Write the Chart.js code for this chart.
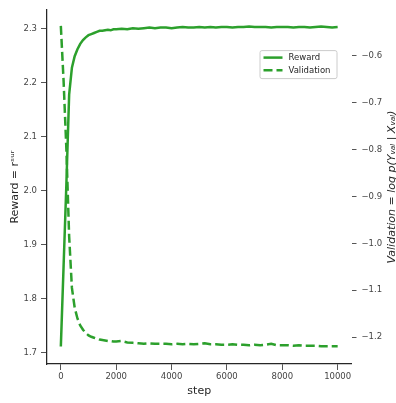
<!DOCTYPE html>
<html>
<head>
<meta charset="utf-8">
<script src="https://cdn.jsdelivr.net/npm/chart.js@4"></script>
<style>
  html, body { margin: 0; padding: 0; background: #fff; }
  #wrap { width: 396px; height: 403px; }
</style>
</head>
<body>
<div id="wrap"><canvas id="graficoEntrenamiento"></canvas></div>
<script>
// datos
let steps = [0, 100, 200, 300, 400, 500, 600, 700, 800, 900, 1000, 1100, 1200, 1300, 1400, 1500, 1600, 1700, 1800, 1900, 2000,
  2200, 2400, 2600, 2800, 3000, 3200, 3400, 3600, 3800, 4000, 4200, 4400, 4600, 4800, 5000, 5200, 5400, 5600, 5800, 6000,
  6200, 6400, 6600, 6800, 7000, 7200, 7400, 7600, 7800, 8000, 8200, 8400, 8600, 8800, 9000, 9200, 9400, 9600, 9800, 10000];

let reward = [1.712, 1.862, 2.012, 2.178, 2.228, 2.249, 2.262, 2.272, 2.279, 2.284, 2.288, 2.290, 2.292, 2.294, 2.296, 2.296, 2.297, 2.298, 2.297, 2.299, 2.299,
  2.300, 2.299, 2.301, 2.300, 2.301, 2.302, 2.301, 2.302, 2.302, 2.301, 2.302, 2.303, 2.302, 2.302, 2.303, 2.302, 2.303, 2.302, 2.303, 2.303,
  2.302, 2.303, 2.303, 2.304, 2.303, 2.303, 2.303, 2.302, 2.303, 2.303, 2.303, 2.302, 2.303, 2.303, 2.302, 2.303, 2.304, 2.303, 2.302, 2.303];

let validation = [-0.537, -0.655, -0.800, -0.985, -1.095, -1.137, -1.160, -1.175, -1.184, -1.191, -1.196, -1.199, -1.201, -1.203, -1.205, -1.206, -1.207, -1.208, -1.208, -1.209, -1.209,
  -1.208, -1.211, -1.212, -1.213, -1.214, -1.213, -1.214, -1.214, -1.214, -1.215, -1.214, -1.215, -1.214, -1.215, -1.214, -1.213, -1.215, -1.215, -1.216, -1.216,
  -1.215, -1.216, -1.216, -1.217, -1.216, -1.217, -1.216, -1.214, -1.217, -1.217, -1.217, -1.218, -1.217, -1.218, -1.218, -1.218, -1.219, -1.219, -1.219, -1.219];

let xTicks = [0, 2000, 4000, 6000, 8000, 10000];
let rewardTicks = [1.7, 1.8, 1.9, 2.0, 2.1, 2.2, 2.3];
let validationTicks = [-0.6, -0.7, -0.8, -0.9, -1.0, -1.1, -1.2];

let green = '#2ca02c';
let dark = '#262626';
let gray = '#444444';
let tickFont = { family: 'DejaVu Sans', size: 8.5 };

function fmt(v) {
  let s = Math.abs(v).toFixed(1);
  return v < 0 ? '\u2212' + s : s;
}

// leyenda con recuadro dentro del área del gráfico
let leyenda = {
  id: 'leyenda',
  afterDatasetsDraw(chart) {
    let c = chart.ctx;
    let a = chart.chartArea;
    let x = a.right - 92, y = a.top + 40, w = 77, h = 28;
    c.save();
    c.fillStyle = 'rgba(255,255,255,0.85)';
    c.strokeStyle = '#cccccc';
    c.lineWidth = 1;
    c.beginPath();
    c.roundRect(x + 0.5, y + 0.5, w, h, 2);
    c.fill();
    c.stroke();
    c.font = '8.5px "DejaVu Sans"';
    c.textBaseline = 'middle';
    chart.data.datasets.forEach((ds, i) => {
      let ly = y + 7.5 + i * 12.7;
      c.strokeStyle = ds.borderColor;
      c.lineWidth = ds.borderWidth;
      c.setLineDash(ds.borderDash || []);
      c.beginPath();
      c.moveTo(x + 4, ly);
      c.lineTo(x + 23, ly);
      c.stroke();
      c.setLineDash([]);
      c.fillStyle = dark;
      c.fillText(ds.label, x + 29, ly);
    });
    c.restore();
  }
};

// título del eje derecho, leído de abajo hacia arriba
let tituloDerecho = {
  id: 'tituloDerecho',
  afterDraw(chart) {
    let c = chart.ctx;
    let a = chart.chartArea;
    c.save();
    c.translate(395, (a.top + a.bottom) / 2);
    c.rotate(-Math.PI / 2);
    c.font = 'italic 11px "DejaVu Sans"';
    c.fillStyle = dark;
    c.textAlign = 'center';
    c.textBaseline = 'alphabetic';
    c.fillText('Validation = log p(Y\u1D65\u2090\u2097 | X\u1D65\u2090\u2097)', 0, 0);
    c.restore();
  }
};

let ctx = document.getElementById('graficoEntrenamiento').getContext('2d');

let grafico = new Chart(ctx, {
  type: 'line',
  data: {
    datasets: [
      {
        label: 'Reward',
        data: steps.map((s, i) => ({ x: s, y: reward[i] })),
        borderColor: green,
        borderWidth: 2.5,
        pointRadius: 0,
        tension: 0,
        yAxisID: 'y',
        order: 1,
      },
      {
        label: 'Validation',
        data: steps.map((s, i) => ({ x: s, y: validation[i] })),
        borderColor: green,
        borderWidth: 2.5,
        borderDash: [9, 4],
        pointRadius: 0,
        tension: 0,
        yAxisID: 'y1',
        order: 0,
      },
    ],
  },
  options: {
    responsive: true,
    maintainAspectRatio: false,
    animation: false,
    layout: { padding: { top: 3, right: 0, bottom: 0, left: 0 } },
    plugins: {
      legend: { display: false },
      tooltip: { enabled: false },
    },
    scales: {
      x: {
        type: 'linear',
        min: -500,
        max: 10500,
        afterBuildTicks: (s) => { s.ticks = xTicks.map(v => ({ value: v })); },
        afterFit: (s) => { s.height = 39; },
        ticks: { font: tickFont, color: gray, padding: 2, maxRotation: 0, callback: (v) => String(v) },
        grid: { drawOnChartArea: false, tickLength: 6, color: '#555', lineWidth: 1 },
        border: { display: true, color: dark, width: 1.25 },
        title: { display: true, text: 'step', font: { family: 'DejaVu Sans', size: 11 }, color: dark, padding: { top: 0, bottom: 5 } },
      },
      y: {
        position: 'left',
        min: 1.6795,
        max: 2.3344,
        afterBuildTicks: (s) => { s.ticks = rewardTicks.map(v => ({ value: v })); },
        afterFit: (s) => { s.width = 47; },
        ticks: { font: tickFont, color: gray, padding: 4, callback: (v) => fmt(v) },
        grid: { drawOnChartArea: false, tickLength: 6, color: '#555', lineWidth: 1 },
        border: { display: true, color: dark, width: 1.25 },
        title: { display: true, text: 'Reward = r\u02E2\u1D58\u02B3', font: { family: 'DejaVu Sans', size: 11 }, color: dark, padding: { top: 9, bottom: 0 } },
      },
      y1: {
        position: 'right',
        min: -1.257,
        max: -0.5033,
        afterBuildTicks: (s) => { s.ticks = validationTicks.map(v => ({ value: v })); },
        afterFit: (s) => { s.width = 44.5; },
        ticks: { font: tickFont, color: gray, padding: 5, callback: (v) => fmt(v) },
        grid: { drawOnChartArea: false, tickLength: 5, color: '#555', lineWidth: 1 },
        border: { display: false },
      },
    },
  },
  plugins: [leyenda, tituloDerecho],
});
</script>
</body>
</html>
